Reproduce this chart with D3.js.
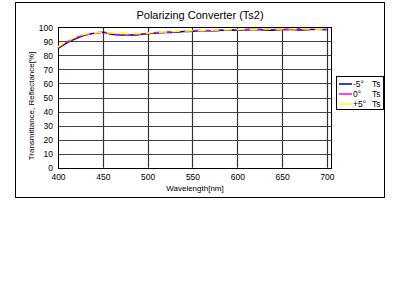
<!DOCTYPE html>
<html><head><meta charset="utf-8">
<script src="https://cdn.jsdelivr.net/npm/d3@7"></script>
<style>body{margin:0;background:#fff}svg{display:block}text{font-family:"Liberation Sans",Arial,sans-serif;fill:#000}</style>
</head><body><svg id="c" width="400" height="300"></svg>
<script>
const wavelengths = [400,410,420,430,440,450,460,470,480,490,500,510,520,530,540,550,560,570,580,590,600,610,620,630,640,650,660,670,680,690,700];
const seriesNames = ["-5\u00b0  Ts","0\u00b0  Ts","+5\u00b0  Ts"];
const seriesColors = ["#000080","#ff00ff","#ffff00"];
const minus5 = [85,89,92,94.5,95.8,96.5,95,94.5,94.5,94.8,95.5,96,96.3,96.5,97,97.2,97.5,97.5,97.8,98,98,98.2,98.5,98.2,98,98.4,98.5,98.2,98.4,98.6,98.2];
const zero   = [85.5,89.5,92.5,94.5,95.5,96.3,95.3,94.8,94.6,95,95.6,96.2,96.5,96.8,97.2,97.6,97.8,97.4,98.1,98.3,98.2,98.5,98.3,98.6,98.8,98.3,98.6,98.9,98.5,98.7,98.5];
const plus5  = [86,90,93,95,96,96.5,96,95.7,95.5,95.6,96,96.4,96.7,97,97.3,97.6,97.8,98,98.2,98.3,98.4,98.5,98.7,98.8,98.7,98.9,99,98.8,99,98.9,98.8];
const xTicks = [400,450,500,550,600,650,700];
const yTicks = [0,10,20,30,40,50,60,70,80,90,100];

const svg = d3.select("#c");
const L=58,R=331,T=27.3,B=167.7;
const x = d3.scaleLinear().domain([400,704.5]).range([L,R]);
const y = d3.scaleLinear().domain([0,100]).range([B,T]);

svg.append("rect").attr("x",15.5).attr("y",2.5).attr("width",369).attr("height",195).attr("fill","none").attr("stroke","#000");
svg.append("text").attr("x",200).attr("y",19).attr("text-anchor","middle").style("font-size","11px").text("Polarizing Converter (Ts2)");

const g = svg.append("g");
g.selectAll(".hy").data(yTicks).join("line").attr("x1",L).attr("x2",R).attr("y1",d=>Math.round(y(d))+0.5).attr("y2",d=>Math.round(y(d))+0.5).attr("stroke","#444").attr("stroke-width",1.2);
g.selectAll(".vx").data(xTicks.slice(1)).join("line").attr("y1",T).attr("y2",B).attr("x1",d=>Math.round(x(d))+0.5).attr("x2",d=>Math.round(x(d))+0.5).attr("stroke","#333").attr("stroke-width",1.2);
svg.append("rect").attr("x",L+0.5).attr("y",Math.round(T)+0.5).attr("width",R-L).attr("height",Math.round(B)-Math.round(T)).attr("fill","none").attr("stroke","#000");

const xa = svg.append("g").attr("transform",`translate(0,${B})`).call(d3.axisBottom(x).tickValues(xTicks).tickSize(0).tickPadding(6));
xa.select(".domain").remove();
xa.selectAll("text").style("font-size","8.5px").style("font-family","Liberation Sans, Arial, sans-serif");
const ya = svg.append("g").attr("transform",`translate(${L},0)`).call(d3.axisLeft(y).tickValues(yTicks).tickSize(0).tickPadding(5));
ya.select(".domain").remove();
ya.selectAll("text").style("font-size","8.5px").style("font-family","Liberation Sans, Arial, sans-serif");

svg.append("text").attr("x",195).attr("y",191).attr("text-anchor","middle").style("font-size","8px").text("Wavelength[nm]");
svg.append("text").attr("transform","translate(34,106) rotate(-90)").attr("text-anchor","middle").style("font-size","8px").text("Transmittance, Reflectance[%]");

const data=[minus5,zero,plus5];
const line = d3.line().x((d,i)=>x(wavelengths[i])).y(d=>y(d)).curve(d3.curveMonotoneX);
[0,1,2].forEach(k=>{
  svg.append("path").attr("d",line(data[k])).attr("fill","none").attr("stroke",seriesColors[k]).attr("stroke-width",1.6).attr("stroke-dasharray",k===0?null:(k===1?"6,4":"8,5"));
});

const lg = svg.append("g");
lg.append("rect").attr("x",336.5).attr("y",76.5).attr("width",47).attr("height",33).attr("fill","#fff").attr("stroke","#000");
seriesNames.forEach((n,i)=>{
  const yy=84+i*10;
  lg.append("line").attr("x1",339).attr("x2",352).attr("y1",yy).attr("y2",yy).attr("stroke",seriesColors[i]).attr("stroke-width",1.5);
  const parts=n.split("  ");
  lg.append("text").attr("x",353).attr("y",yy+3).style("font-size","8.5px").text(parts[0]);
  lg.append("text").attr("x",372).attr("y",yy+3).style("font-size","8.5px").text(parts[1]);
});
</script></body></html>
